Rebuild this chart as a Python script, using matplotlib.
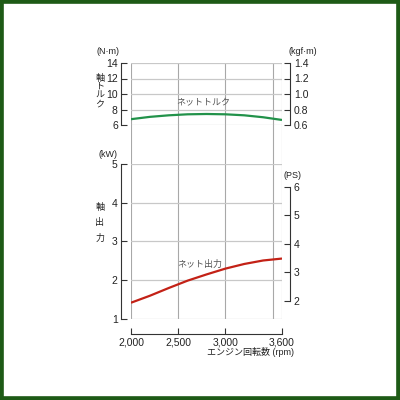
import matplotlib
matplotlib.use("Agg")
import matplotlib.pyplot as plt
from matplotlib.patches import Rectangle

plt.rcParams['font.family'] = ['Liberation Sans', 'Noto Sans CJK JP', 'DejaVu Sans']

rpm = [2000, 2200, 2400, 2600, 2800, 3000, 3200, 3400, 3600]
torque_nm = [6.75, 7.05, 7.25, 7.38, 7.42, 7.38, 7.25, 7.00, 6.65]
power_kw = [1.42, 1.60, 1.80, 1.99, 2.15, 2.30, 2.42, 2.51, 2.56]

x_ticks = [2000, 2500, 3000, 3600]
x_labels = ["2,000", "2,500", "3,000", "3,600"]
grid_x = [2000, 2500, 3000, 3500, 3600]
torque_ticks = [6, 8, 10, 12, 14]
kgf_ticks = [0.6, 0.8, 1.0, 1.2, 1.4]
kgf_labels = ["0.6", "0.8", "1.0", "1.2", "1.4"]
kw_ticks = [1, 2, 3, 4, 5]
ps_ticks = [2, 3, 4, 5, 6]

W = H = 400
def fx(px): return px / W
def fy(py): return 1 - py / H

GRID = '#c8c8c8'
VGRID = '#a8a8a8'
AX = '#333333'
TXT = '#222222'
GREEN = '#22924a'
RED = '#c32116'
LS = 7.5

fig = plt.figure(figsize=(4, 4), dpi=100)
fig.patch.set_facecolor('white')

left, right = 131, 282
# background axes for continuous vertical grid lines
bg = fig.add_axes([fx(left), fy(319), fx(right - left), (319 - 63) / H])
bg.set_xlim(2000, 3600)
bg.set_ylim(0, 1)
for gx in grid_x:
    bg.axvline(gx, color=VGRID, lw=0.8, zorder=0)
bg.axis('off')

# torque axes
axt = fig.add_axes([fx(left), fy(125), fx(right - left), (125 - 63) / H])
axt.patch.set_alpha(0)
axt.set_xlim(2000, 3600)
axt.set_ylim(6, 14)
for t in torque_ticks:
    axt.axhline(t, color=GRID, lw=0.9, zorder=0)
axt.plot(rpm, torque_nm, color=GREEN, lw=1.6, solid_capstyle='butt', zorder=3)
for s in ['top', 'right', 'bottom']:
    axt.spines[s].set_visible(False)
axt.spines['left'].set_position(('outward', 7))
axt.spines['left'].set_bounds(6, 14)
axt.spines['left'].set_color(AX)
axt.spines['left'].set_linewidth(0.8)
axt.set_xticks([])
axt.set_yticks(torque_ticks)
axt.tick_params(axis='y', direction='in', length=4, width=0.8, color=AX,
                labelsize=LS, labelcolor=TXT, pad=2.5)

axk = axt.twinx()
axk.set_ylim(0.6, 1.4)
for s in ['top', 'left', 'bottom']:
    axk.spines[s].set_visible(False)
axk.spines['right'].set_position(('outward', 6))
axk.spines['right'].set_bounds(0.6, 1.4)
axk.spines['right'].set_color(AX)
axk.spines['right'].set_linewidth(0.8)
axk.set_yticks(kgf_ticks)
axk.set_yticklabels(kgf_labels)
axk.tick_params(axis='y', direction='in', length=4, width=0.8, color=AX,
                labelsize=LS, labelcolor=TXT, pad=2.5)

# power axes
axp = fig.add_axes([fx(left), fy(319), fx(right - left), (319 - 164) / H])
axp.patch.set_alpha(0)
axp.set_xlim(2000, 3600)
axp.set_ylim(1, 5)
for k in kw_ticks:
    axp.axhline(k, color=GRID, lw=0.9, zorder=0)
axp.plot(rpm, power_kw, color=RED, lw=1.6, solid_capstyle='butt', zorder=3)
for s in ['top', 'right']:
    axp.spines[s].set_visible(False)
axp.spines['left'].set_position(('outward', 7))
axp.spines['left'].set_bounds(1, 5)
axp.spines['bottom'].set_position(('outward', 11))
axp.spines['bottom'].set_bounds(2000, 3600)
for s in ['left', 'bottom']:
    axp.spines[s].set_color(AX)
    axp.spines[s].set_linewidth(0.8)
axp.set_yticks(kw_ticks)
axp.set_xticks(x_ticks)
axp.set_xticklabels(x_labels)
axp.tick_params(axis='both', direction='in', length=4, width=0.8, color=AX,
                labelsize=LS, labelcolor=TXT, pad=2.5)

axs = axp.twinx()
axs.set_ylim(1 / 0.7355, 5 / 0.7355)
for s in ['top', 'left', 'bottom']:
    axs.spines[s].set_visible(False)
axs.spines['right'].set_position(('outward', 6))
axs.spines['right'].set_bounds(2, 6)
axs.spines['right'].set_color(AX)
axs.spines['right'].set_linewidth(0.8)
axs.set_yticks(ps_ticks)
axs.tick_params(axis='y', direction='in', length=4, width=0.8, color=AX,
                labelsize=LS, labelcolor=TXT, pad=2.5)

# texts
fs = 6.5
fig.text(fx(108), fy(52), "(N·m)", ha='center', va='center', fontsize=fs, color=TXT)
fig.text(fx(303), fy(52), "(kgf·m)", ha='center', va='center', fontsize=fs, color=TXT)
fig.text(fx(108), fy(155), "(kW)", ha='center', va='center', fontsize=fs, color=TXT)
fig.text(fx(293), fy(176), "(PS)", ha='center', va='center', fontsize=fs, color=TXT)
fig.text(fx(100), fy(91), "軸\nト\nル\nク", ha='center', va='center', fontsize=fs,
         color=TXT, linespacing=0.95)
fig.text(fx(100), fy(223), "軸\n出\n力", ha='center', va='center', fontsize=fs,
         color=TXT, linespacing=1.9)
fig.text(fx(203), fy(103), "ネットトルク", ha='center', va='center', fontsize=fs, color='#555555')
fig.text(fx(200), fy(264), "ネット出力", ha='center', va='center', fontsize=fs, color='#555555')
fig.text(fx(294), fy(352), "エンジン回転数 (rpm)", ha='right', va='center', fontsize=fs, color=TXT)

fig.patches.append(Rectangle((0, 0), 1, 1, transform=fig.transFigure, fill=False,
                             edgecolor='#1e5a16', linewidth=5.5))

fig.savefig("out.png", dpi=100, facecolor='white')
